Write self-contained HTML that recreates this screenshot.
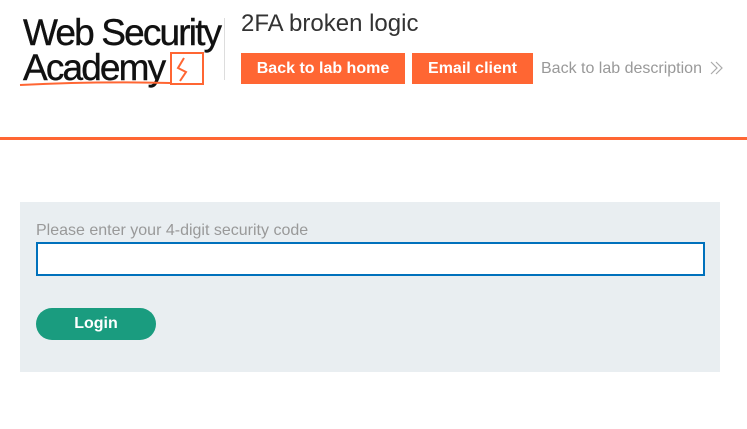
<!DOCTYPE html>
<html><head><style>
body{margin:0;width:747px;height:429px;background:#fff;font-family:"Liberation Sans",sans-serif;position:relative;overflow:hidden}
.a{position:absolute}
.logo{font-size:37px;letter-spacing:-1.85px;color:#111;line-height:34px;-webkit-text-stroke:0.4px #111}
.btn{background:#ff6633;color:#fff;font-weight:bold;font-size:16px;height:31px;line-height:31px;text-align:center}
</style></head><body>
<div class="a logo" style="left:23px;top:16px">Web Security</div>
<div class="a logo" style="left:23px;top:51px">Academy</div>
<svg class="a" style="left:18px;top:50px" width="190" height="40">
<path d="M153 3 H185 V34 H153 Z" fill="none" stroke="#ff6633" stroke-width="2"/>
<path d="M166 8 L160 18 L168 22 L162 31" fill="none" stroke="#ff6633" stroke-width="2"/>
<path d="M2 35 Q80 31 152 33" fill="none" stroke="#ff6633" stroke-width="2"/>
</svg>
<div class="a" style="left:224px;top:18px;width:1px;height:62px;background:#ddd"></div>
<div class="a" style="left:241px;top:10px;font-size:24px;color:#333">2FA broken logic</div>
<div class="a btn" style="left:241px;top:53px;width:164px">Back to lab home</div>
<div class="a btn" style="left:412px;top:53px;width:121px">Email client</div>
<div class="a" style="left:541px;top:60px;font-size:16px;color:#999">Back to lab description</div>
<svg class="a" style="left:709px;top:60px" width="16" height="16"><path d="M2 2 L8 8 L2 14 M7 2 L13 8 L7 14" fill="none" stroke="#aaa" stroke-width="1.2"/></svg>
<div class="a" style="left:0;top:137px;width:747px;height:3px;background:#ff6633"></div>
<div class="a" style="left:20px;top:202px;width:700px;height:170px;background:#e9eef1"></div>
<div class="a" style="left:36px;top:222px;font-size:16px;color:#999">Please enter your 4-digit security code</div>
<div class="a" style="left:36px;top:242px;width:665px;height:30px;border:2px solid #0071bc;background:#fff"></div>
<div class="a" style="left:36px;top:308px;width:120px;height:32px;line-height:32px;border-radius:16px;background:#1a9c7f;color:#fff;font-weight:bold;font-size:16px;text-align:center">Login</div>
</body></html>
